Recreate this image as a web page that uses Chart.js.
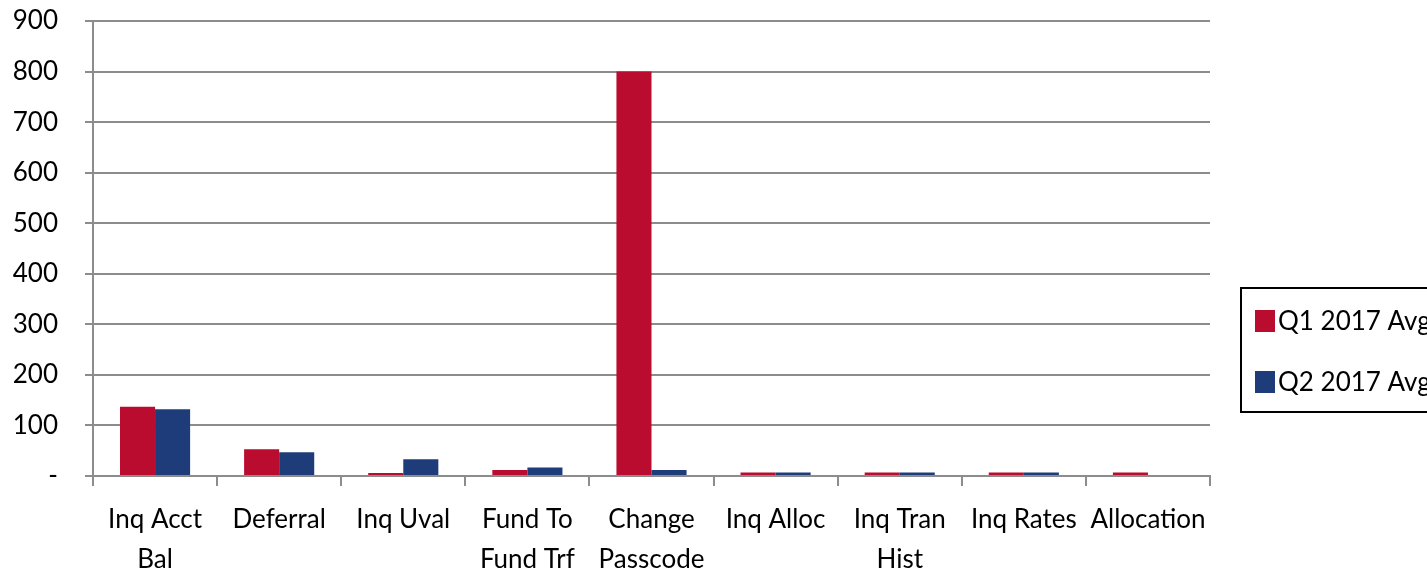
<!DOCTYPE html>
<html>
<head>
<meta charset="utf-8">
<script src="https://cdn.jsdelivr.net/npm/chart.js@4/dist/chart.umd.min.js"></script>
<style>
  html, body { margin: 0; padding: 0; background: #fff; overflow: hidden; }
  #wrap { width: 1427px; height: 576px; position: relative; }
</style>
</head>
<body>
<div id="wrap"><canvas id="chart"></canvas></div>
<script>
const categories = [
    ["Inq Acct", "Bal"], "Deferral", "Inq Uval", ["Fund To", "Fund Trf"],
    ["Change", "Passcode"], "Inq Alloc", ["Inq Tran", "Hist"], "Inq Rates", "Allocation"
];
const q1Values = [137, 53, 6, 12, 800, 7, 7, 7, 7];
const q2Values = [132, 47, 33, 17, 12, 7, 7, 7, 0];
const seriesNames = ["Q1 2017 Avg", "Q2 2017 Avg"];
const seriesColors = ["#BA0C2F", "#1F3C7A"];

const FONT = "Lato, 'Open Sans', sans-serif";

// legend box drawn by hand so it can sit partly off the right edge like the original
const boxLegend = {
    id: "boxLegend",
    afterDraw(chart) {
        const ctx = chart.ctx;
        ctx.save();
        ctx.strokeStyle = "#000";
        ctx.lineWidth = 2;
        ctx.strokeRect(1241, 288, 220, 124);
        ctx.font = "26px " + FONT;
        ctx.textBaseline = "middle";
        ctx.textAlign = "left";
        chart.data.datasets.forEach((ds, i) => {
            const y = 321 + i * 61;
            ctx.fillStyle = ds.backgroundColor;
            ctx.fillRect(1255, y - 11, 20, 22);
            ctx.fillStyle = "#000";
            ctx.fillText(ds.label, 1278, y + 1);
        });
        ctx.restore();
    }
};

new Chart(document.getElementById("chart"), {
    type: "bar",
    data: {
        labels: categories,
        datasets: [
            { label: seriesNames[0], data: q1Values, backgroundColor: seriesColors[0] },
            { label: seriesNames[1], data: q2Values, backgroundColor: seriesColors[1] }
        ]
    },
    options: {
        responsive: true,
        maintainAspectRatio: false,
        animation: false,
        datasets: {
            bar: { barPercentage: 1.0, categoryPercentage: 0.565 }
        },
        layout: { padding: { top: 21, right: 217, left: 0, bottom: 0 } },
        scales: {
            x: {
                grid: {
                    drawOnChartArea: false,
                    drawTicks: true,
                    tickLength: 10,
                    color: "#8c8c8c",
                    lineWidth: 2
                },
                border: { color: "#8c8c8c", width: 2 },
                ticks: {
                    color: "#000",
                    font: { family: FONT, size: 26, lineHeight: 1.55 },
                    padding: 13,
                    maxRotation: 0,
                    autoSkip: false
                },
                afterFit(scale) {
                    scale.height = 100;
                    scale.paddingLeft = 0;
                    scale.paddingRight = 0;
                }
            },
            y: {
                min: 0,
                max: 900,
                ticks: {
                    stepSize: 100,
                    color: "#000",
                    font: { family: FONT, size: 26 },
                    padding: 27,
                    callback: (v) => (v === 0 ? "-" : v)
                },
                grid: {
                    color: "#8c8c8c",
                    lineWidth: 2,
                    tickLength: 8
                },
                border: { color: "#8c8c8c", width: 2 },
                afterFit(scale) {
                    scale.width = 93;
                    scale.paddingTop = 0;
                    scale.paddingBottom = 0;
                }
            }
        },
        plugins: {
            legend: { display: false },
            tooltip: { enabled: false }
        }
    },
    plugins: [boxLegend]
});
</script>
</body>
</html>
